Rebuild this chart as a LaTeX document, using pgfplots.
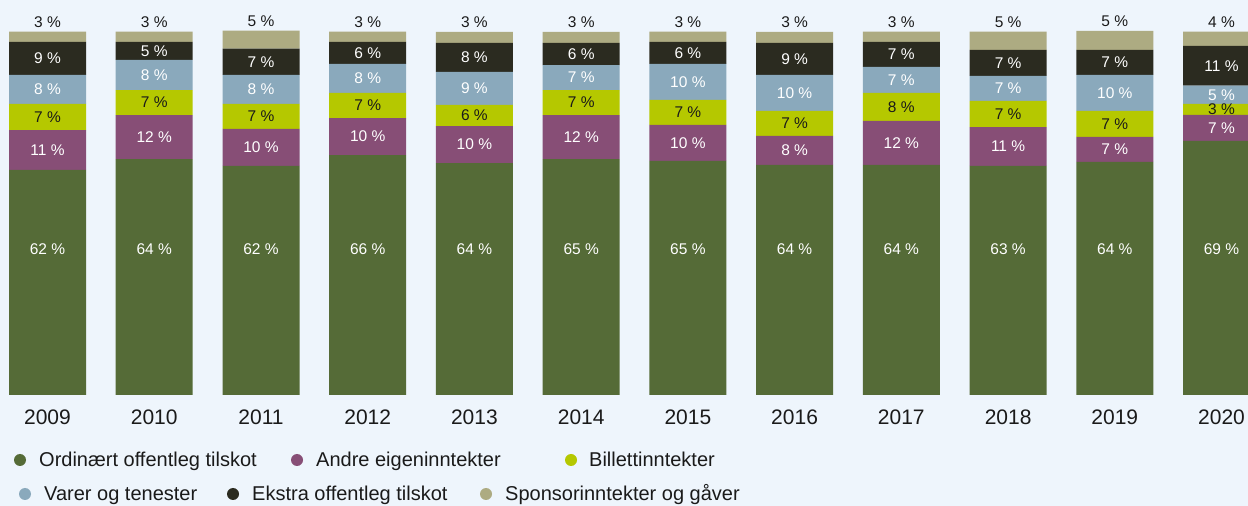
\documentclass[border=0pt]{standalone}
\usepackage{pgfplots}
\pgfplotsset{compat=1.18}
\usepackage{pgfplotstable}
\usepackage{fontspec}
\setmainfont{Liberation Sans}
\definecolor{bg}{HTML}{EEF5FC}
\definecolor{cg}{HTML}{556B37}
\definecolor{cp}{HTML}{874E76}
\definecolor{cy}{HTML}{B5C800}
\definecolor{cb}{HTML}{8AA9BC}
\definecolor{ck}{HTML}{2B2B20}
\definecolor{cs}{HTML}{ADAB82}
\definecolor{tx}{HTML}{1A1A1A}

\pgfplotstableread{
x      g    p    y   b    k    s   lg lp ly lb lk ls
47.5   62.0 11.0 7.2 8.0  9.1  2.8 62 11 7  8  9  3
154.2  65.0 12.1 6.9 8.3  5.0  2.8 64 12 7  8  5  3
261.0  63.1 10.2 6.9 8.0  7.2  5.0 62 10 7  8  7  5
367.7  66.1 10.2 6.9 8.0  6.1  2.8 66 10 7  8  6  3
474.4  63.9 10.2 5.8 9.1  8.0  3.0 64 10 6  9  8  3
581.2  65.0 12.1 6.9 6.9  6.1  3.0 65 12 7  7  6  3
687.9  64.5 9.9  6.9 9.9  6.1  2.8 65 10 7  10 6  3
794.6  63.4 8.0  6.9 9.9  8.8  3.0 64 8  7  10 9  3
901.3  63.4 12.1 7.7 7.2  6.9  2.8 64 12 8  7  7  3
1008.1 63.1 10.7 7.2 6.9  7.2  5.0 63 11 7  7  7  5
1114.8 64.2 6.9  7.2 9.9  6.9  5.2 64 7  7  10 7  5
1221.5 70.0 7.2  3.0 5.0  11.0 3.9 69 7  3  5  11 4
}\data

\pgfplotsset{
  base/.style={
    scale only axis, width=1248pt, height=363pt,
    xmin=0, xmax=1248, ymin=0, ymax=100,
    at={(0pt,111pt)}, anchor=south west, clip=false,
  },
  lab/.style={mark=none, draw=none, nodes near coords={\pgfplotspointmeta\ \%},
    point meta=explicit symbolic,
    every node near coord/.append style={anchor=center, inner sep=0pt,
      font=\fontsize{15.5}{15.5}\selectfont, text=#1}},
}

\begin{document}
\begin{tikzpicture}
\clip (0,0) rectangle (1248pt,506pt);
\fill[bg] (0,0) rectangle (1248pt,506pt);

\begin{axis}[base,
  ybar stacked, bar width=77pt,
  axis line style={draw=none}, major tick style={draw=none},
  ytick=\empty,
  xtick={47.5,154.2,261.0,367.7,474.4,581.2,687.9,794.6,901.3,1008.1,1114.8,1221.5},
  xticklabels={2009,2010,2011,2012,2013,2014,2015,2016,2017,2018,2019,2020},
  xticklabel style={font=\fontsize{21}{21}\selectfont, text=tx, yshift=-11pt},
]
\addplot[fill=cg, draw=none] table[x=x, y=g] {\data};
\addplot[fill=cp, draw=none] table[x=x, y=p] {\data};
\addplot[fill=cy, draw=none] table[x=x, y=y] {\data};
\addplot[fill=cb, draw=none] table[x=x, y=b] {\data};
\addplot[fill=ck, draw=none] table[x=x, y=k] {\data};
\addplot[fill=cs, draw=none] table[x=x, y=s] {\data};
\end{axis}

\begin{axis}[base, hide axis]
\addplot[lab=white] table[x=x, y expr=40.2, meta=lg] {\data};
\addplot[lab=white] table[x=x, y expr=\thisrow{g}+\thisrow{p}/2, meta=lp] {\data};
\addplot[lab=tx] table[x=x, y expr=\thisrow{g}+\thisrow{p}+\thisrow{y}/2, meta=ly] {\data};
\addplot[lab=white] table[x=x, y expr=\thisrow{g}+\thisrow{p}+\thisrow{y}+\thisrow{b}/2, meta=lb] {\data};
\addplot[lab=white] table[x=x, y expr=\thisrow{g}+\thisrow{p}+\thisrow{y}+\thisrow{b}+\thisrow{k}/2, meta=lk] {\data};
\addplot[lab=tx] table[x=x, y expr=\thisrow{g}+\thisrow{p}+\thisrow{y}+\thisrow{b}+\thisrow{k}+\thisrow{s}+2.6, meta=ls] {\data};
\end{axis}

\begin{scope}[every node/.style={anchor=base west, inner sep=0pt, font=\fontsize{20}{20}\selectfont, text=tx}]
\fill[cg] (20pt,46pt) circle (6pt); \node at (39pt,39pt) {Ordinært offentleg tilskot};
\fill[cp] (297pt,46pt) circle (6pt); \node at (316pt,39pt) {Andre eigeninntekter};
\fill[cy] (571pt,46pt) circle (6pt); \node at (589pt,39pt) {Billettinntekter};
\fill[cb] (25pt,12pt) circle (6pt); \node at (44pt,5pt) {Varer og tenester};
\fill[ck] (233pt,12pt) circle (6pt); \node at (252pt,5pt) {Ekstra offentleg tilskot};
\fill[cs] (486pt,12pt) circle (6pt); \node at (505pt,5pt) {Sponsorinntekter og gåver};
\end{scope}
\end{tikzpicture}
\end{document}
